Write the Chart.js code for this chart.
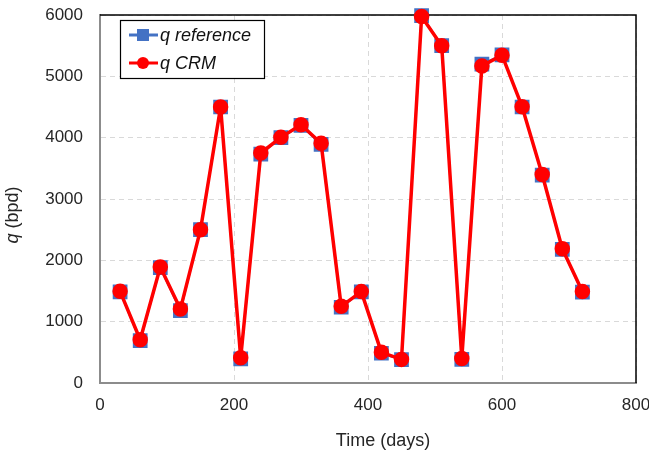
<!DOCTYPE html>
<html>
<head>
<meta charset="utf-8">
<script src="https://cdn.jsdelivr.net/npm/chart.js@4.4.0/dist/chart.umd.min.js"></script>
<style>
  body { margin: 0; background: #fff; }
  #wrap { width: 649px; height: 453px; }
</style>
</head>
<body>
<div id="wrap"><canvas id="chart" width="649" height="453"></canvas></div>
<script>
// time in days
var days = [30, 60, 90, 120, 150, 180, 210, 240, 270, 300, 330, 360,
            390, 420, 450, 480, 510, 540, 570, 600, 630, 660, 690, 720];
var qReference = [1485, 690, 1880, 1180, 2500, 4500, 395, 3730, 4000, 4200, 3890, 1235,
                  1485, 485, 380, 5990, 5500, 385, 5200, 5350, 4500, 3390, 2180, 1480];
var qCRM = [1495, 705, 1890, 1205, 2500, 4500, 410, 3750, 4005, 4210, 3910, 1250,
            1490, 500, 385, 5975, 5500, 400, 5170, 5345, 4505, 3400, 2190, 1490];
var xTicks = [0, 200, 400, 600, 800];
var yTicks = [0, 1000, 2000, 3000, 4000, 5000, 6000];

function pts(vals) {
  return vals.map(function (v, i) { return { x: days[i], y: v }; });
}

var blue = '#4472C4';
var red = '#FF0000';
var txt = '#262626';
var fam = '"Liberation Sans", Arial, sans-serif';

var decor = {
  id: 'decor',
  beforeDatasetsDraw: function (chart) {
    // top and right frame, under the markers
    var c = chart.ctx, a = chart.chartArea;
    c.save();
    c.strokeStyle = '#000';
    c.lineWidth = 1.5;
    c.beginPath();
    c.moveTo(a.left, a.top);
    c.lineTo(a.right, a.top);
    c.lineTo(a.right, a.bottom);
    c.stroke();
    c.restore();
  },
  afterDraw: function (chart) {
    var c = chart.ctx;
    c.save();
    // legend box
    c.fillStyle = '#fff';
    c.fillRect(120, 20, 144, 58);
    c.strokeStyle = '#000';
    c.lineWidth = 1.2;
    c.strokeRect(120.5, 20.5, 144, 58);
    var rows = [
      { label: 'q reference', color: blue, shape: 'rect', y: 35 },
      { label: 'q CRM', color: red, shape: 'circle', y: 63 }
    ];
    rows.forEach(function (r) {
      c.strokeStyle = r.color;
      c.lineWidth = 3;
      c.beginPath();
      c.moveTo(129, r.y);
      c.lineTo(158, r.y);
      c.stroke();
      c.fillStyle = r.color;
      if (r.shape === 'rect') {
        c.fillRect(137, r.y - 6, 12, 12);
      } else {
        c.beginPath();
        c.arc(143, r.y, 6, 0, Math.PI * 2);
        c.fill();
      }
      c.fillStyle = '#111';
      c.font = 'italic 18px ' + fam;
      c.textBaseline = 'middle';
      c.textAlign = 'left';
      c.fillText(r.label, 160, r.y + 1);
    });

    // x axis title
    c.fillStyle = txt;
    c.font = '18px ' + fam;
    c.textAlign = 'center';
    c.textBaseline = 'middle';
    c.fillText('Time (days)', 383, 441);

    // y axis title: italic q + (bpd)
    c.translate(13, 215);
    c.rotate(-Math.PI / 2);
    c.textAlign = 'left';
    c.font = 'italic 18px ' + fam;
    var w1 = c.measureText('q ').width;
    c.font = '18px ' + fam;
    var w2 = c.measureText('(bpd)').width;
    var x0 = -(w1 + w2) / 2;
    c.font = 'italic 18px ' + fam;
    c.fillText('q ', x0, 0);
    c.font = '18px ' + fam;
    c.fillText('(bpd)', x0 + w1, 0);
    c.restore();
  }
};

function plain(v) { return String(v); }

new Chart(document.getElementById('chart'), {
  type: 'line',
  data: {
    datasets: [
      {
        label: 'q reference',
        data: pts(qReference),
        borderColor: blue,
        backgroundColor: blue,
        borderWidth: 2,
        borderJoinStyle: 'round',
        pointStyle: 'rect',
        pointRadius: 9,
        pointHoverRadius: 9,
        clip: false,
        order: 2
      },
      {
        label: 'q CRM',
        data: pts(qCRM),
        borderColor: red,
        backgroundColor: red,
        borderWidth: 3.5,
        borderJoinStyle: 'round',
        pointStyle: 'circle',
        pointRadius: 6,
        pointHoverRadius: 6,
        clip: false,
        order: 1
      }
    ]
  },
  options: {
    responsive: false,
    animation: false,
    layout: { padding: { left: 0, top: 15, right: 13, bottom: 0 } },
    plugins: { legend: { display: false }, tooltip: { enabled: false } },
    scales: {
      x: {
        type: 'linear',
        min: 0, max: 800,
        afterBuildTicks: function (s) { s.ticks = xTicks.map(function (v) { return { value: v }; }); },
        afterFit: function (s) { s.height = 70; s.paddingLeft = 0; s.paddingRight = 0; },
        grid: { color: '#d9d9d9', drawTicks: false, lineWidth: 1 },
        border: { color: '#8c8c8c', width: 2, dash: [5, 4] },
        ticks: { color: txt, padding: 12, callback: plain, font: { size: 17, family: fam } }
      },
      y: {
        min: 0, max: 6000,
        afterBuildTicks: function (s) { s.ticks = yTicks.map(function (v) { return { value: v }; }); },
        afterFit: function (s) { s.width = 100; s.paddingTop = 0; s.paddingBottom = 0; },
        grid: { color: '#d9d9d9', drawTicks: false, lineWidth: 1 },
        border: { color: '#8c8c8c', width: 2, dash: [5, 4] },
        ticks: { color: txt, padding: 17, callback: plain, font: { size: 17, family: fam } }
      }
    }
  },
  plugins: [decor]
});
</script>
</body>
</html>
